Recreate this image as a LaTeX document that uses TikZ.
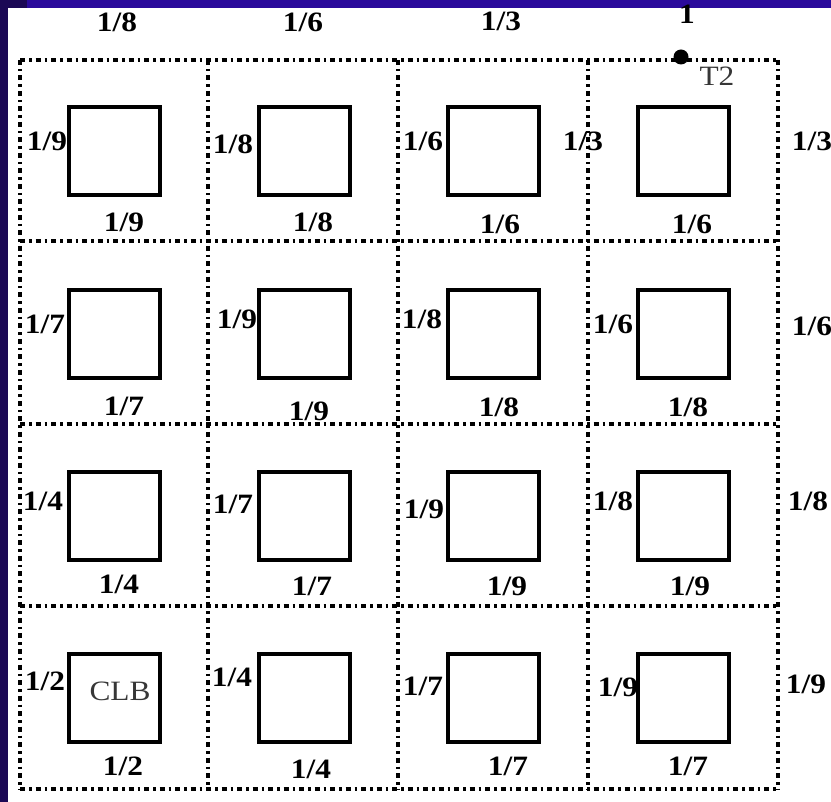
\documentclass[tikz,border=0pt]{standalone}
\usepackage{fontspec}
\setmainfont{Liberation Serif}[FakeStretch=1.12]
\definecolor{slidenavy}{RGB}{27,8,85}
\definecolor{slideblue}{RGB}{42,10,155}
\definecolor{taggray}{RGB}{55,55,55}
\tikzstyle{clb}=[rectangle,draw=black,line width=3.5pt,minimum width=91pt,minimum height=88pt,inner sep=0pt]
\tikzstyle{wt}=[font=\fontsize{28}{30}\selectfont\bfseries,inner sep=0pt,text height=0.68em,text depth=0pt]
\tikzstyle{tag}=[font=\fontsize{28}{30}\selectfont,text=taggray,inner sep=0pt,text height=0.66em,text depth=0pt]
\tikzstyle{channel}=[line width=3.5pt,dash pattern=on 5pt off 4pt on 2.5pt off 4pt]
\begin{document}
\begin{tikzpicture}[x=1pt,y=-1pt]
	% slide background
	\fill[white] (0,0) rectangle (831,802);
	\fill[slidenavy] (0,0) rectangle (8,802);
	\fill[slidenavy] (8,0) rectangle (27,8);
	\fill[slideblue] (27,0) rectangle (831,8);
	\useasboundingbox (0,0) rectangle (831,802);

	% routing channels
	\draw[channel] (20,60) -- (778,60);
	\draw[channel] (20,241) -- (778,241);
	\draw[channel] (20,424) -- (778,424);
	\draw[channel] (20,606) -- (778,606);
	\draw[channel] (20,789) -- (778,789);
	\draw[channel] (20,60) -- (20,789);
	\draw[channel] (208,60) -- (208,789);
	\draw[channel] (398,60) -- (398,789);
	\draw[channel] (588,60) -- (588,789);
	\draw[channel] (778,60) -- (778,789);

	% logic blocks
	\node[clb] (clb11) at (114.5,151) {};
	\node[clb] (clb12) at (304.5,151) {};
	\node[clb] (clb13) at (493.5,151) {};
	\node[clb] (clb14) at (683.5,151) {};
	\node[clb] (clb21) at (114.5,334) {};
	\node[clb] (clb22) at (304.5,334) {};
	\node[clb] (clb23) at (493.5,334) {};
	\node[clb] (clb24) at (683.5,334) {};
	\node[clb] (clb31) at (114.5,516) {};
	\node[clb] (clb32) at (304.5,516) {};
	\node[clb] (clb33) at (493.5,516) {};
	\node[clb] (clb34) at (683.5,516) {};
	\node[clb] (clb41) at (114.5,698) {};
	\node[clb] (clb42) at (304.5,698) {};
	\node[clb] (clb43) at (493.5,698) {};
	\node[clb] (clb44) at (683.5,698) {};
	\node[tag] (clbname) at (120,697) {CLB};

	% sink T2
	\node[circle,fill=black,inner sep=0pt,minimum size=15pt] (sink) at (681,57) {};
	\node[tag] (sinkname) at (717,82) {T2};

	% weights above the grid
	\node[wt] (top1) at (117,28) {1/8};
	\node[wt] (top2) at (303,28) {1/6};
	\node[wt] (top3) at (501,27) {1/3};
	\node[wt] (top4) at (687,20) {1};

	% weights right of the grid
	\node[wt] (right1) at (812,147) {1/3};
	\node[wt] (right2) at (812,332) {1/6};
	\node[wt] (right3) at (808,507) {1/8};
	\node[wt] (right4) at (806,690) {1/9};

	% row 1
	\node[wt] (w11l) at (47,147) {1/9};
	\node[wt] (w12l) at (233,150) {1/8};
	\node[wt] (w13l) at (423,147) {1/6};
	\node[wt] (w14l) at (583,147) {1/3};
	\node[wt] (w11b) at (124,228) {1/9};
	\node[wt] (w12b) at (313,228) {1/8};
	\node[wt] (w13b) at (500,230) {1/6};
	\node[wt] (w14b) at (692,230) {1/6};

	% row 2
	\node[wt] (w21l) at (45,330) {1/7};
	\node[wt] (w22l) at (237,325) {1/9};
	\node[wt] (w23l) at (422,325) {1/8};
	\node[wt] (w24l) at (613,330) {1/6};
	\node[wt] (w21b) at (124,412) {1/7};
	\node[wt] (w22b) at (309,417) {1/9};
	\node[wt] (w23b) at (499,413) {1/8};
	\node[wt] (w24b) at (688,413) {1/8};

	% row 3
	\node[wt] (w31l) at (43,507) {1/4};
	\node[wt] (w32l) at (233,510) {1/7};
	\node[wt] (w33l) at (424,515) {1/9};
	\node[wt] (w34l) at (613,507) {1/8};
	\node[wt] (w31b) at (119,590) {1/4};
	\node[wt] (w32b) at (312,592) {1/7};
	\node[wt] (w33b) at (507,592) {1/9};
	\node[wt] (w34b) at (690,592) {1/9};

	% row 4
	\node[wt] (w41l) at (45,687) {1/2};
	\node[wt] (w42l) at (232,683) {1/4};
	\node[wt] (w43l) at (423,692) {1/7};
	\node[wt] (w44l) at (618,693) {1/9};
	\node[wt] (w41b) at (123,772) {1/2};
	\node[wt] (w42b) at (311,775) {1/4};
	\node[wt] (w43b) at (508,772) {1/7};
	\node[wt] (w44b) at (688,772) {1/7};
\end{tikzpicture}
\end{document}
